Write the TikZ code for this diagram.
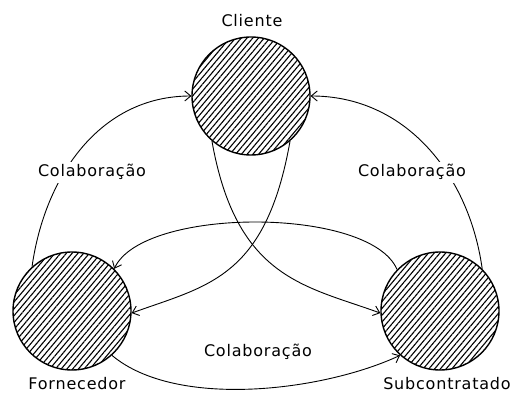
\documentclass[tikz,border=0pt]{standalone}
\usepackage{fontspec}
\newfontfamily\rotfont{DejaVu Sans}[LetterSpace=5]
\usetikzlibrary{arrows.meta,patterns.meta}

\begin{document}
\begin{tikzpicture}[x=1pt,y=1pt,
	ator/.style={circle,draw,line width=1.4pt,minimum size=118pt,inner sep=0pt,
		pattern={Lines[angle=50,distance=4.4pt,line width=1.1pt]}},
	rotulo/.style={font=\rotfont\fontsize{16}{18}\selectfont,inner sep=3pt,anchor=base,fill=white},
	seta/.style={line width=0.9pt,-{Straight Barb[length=6pt,width=10pt]}}]
			\useasboundingbox (0,0) rectangle (515,394);
			\node[ator] (cli) at (251,298) {};
			\node[ator] (forn) at (72,83) {};
			\node[ator] (sub) at (440,83) {};
			\draw[seta] (forn.132) to [out=82, in=180] (cli.west);
			\draw[seta] (sub.45) to [out=98, in=0] (cli.east);
			\draw[seta] (cli.229) to [out=280, in=160, out distance=140pt, in distance=80pt] (sub.182);
			\draw[seta] (cli.311) to [out=260, in=20, out distance=140pt, in distance=80pt] (forn.358);
			\draw[seta] (sub.136) to [out=113, in=65, looseness=0.62] (forn.45);
			\draw[seta] (forn.312) to [out=-40, in=205, looseness=0.75] (sub.228);
			\node[rotulo] (tcli) at (252,367) {Cliente};
			\node[rotulo] (tforn) at (77,4) {Fornecedor};
			\node[rotulo] (tsub) at (447,4) {Subcontratado};
			\node[rotulo] (colE) at (92,217) {Colaboração};
			\node[rotulo] (colD) at (412,217) {Colaboração};
			\node[rotulo] (colB) at (258,37) {Colaboração};
		\end{tikzpicture}
\end{document}
